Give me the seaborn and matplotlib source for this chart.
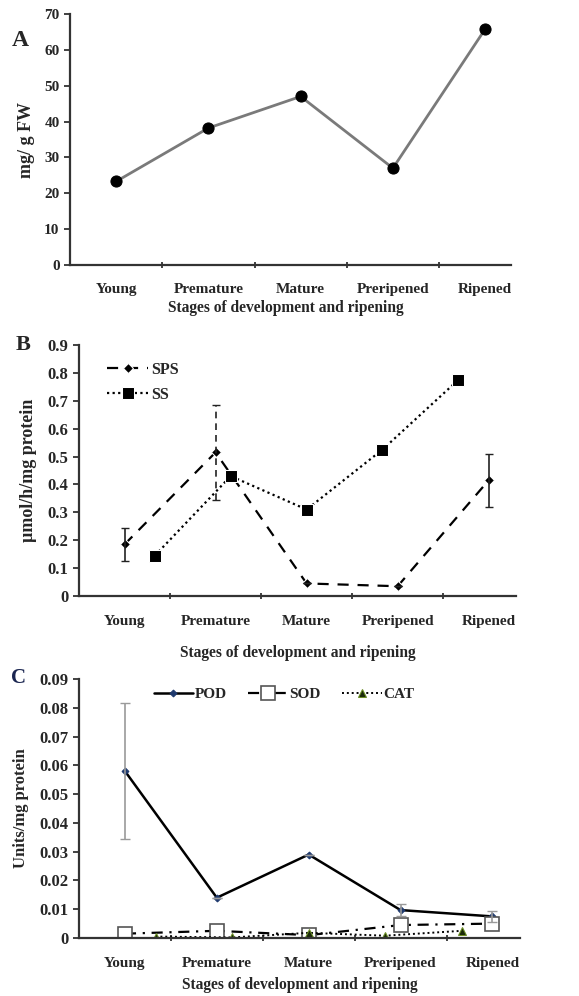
import numpy as np
import matplotlib
matplotlib.use("Agg")
import matplotlib.pyplot as plt
import seaborn as sns
from matplotlib.ticker import FixedLocator, FuncFormatter

sns.set_theme(style="ticks")
plt.rcParams['font.family'] = ['Liberation Serif', 'DejaVu Serif']
plt.rcParams['font.weight'] = 'bold'

stages = ['Young', 'Premature', 'Mature', 'Preripened', 'Ripened']
xlab = 'Stages of development and ripening'

# panel A
sugar = [23.3, 38.2, 47.0, 27.0, 65.8]

# panel B
sps = [0.185, 0.515, 0.045, 0.035, 0.415]
sps_err = [0.058, 0.17, 0.0, 0.0, 0.095]
ss = [0.145, 0.43, 0.31, 0.525, 0.775]

# panel C
pod = [0.058, 0.014, 0.029, 0.0097, 0.0075]
pod_err = [0.0235, 0.0, 0.0, 0.0022, 0.002]
sod = [0.0015, 0.0025, 0.001, 0.0045, 0.005]
cat = [0.0005, 0.0002, 0.0018, 0.0008, 0.0025]

xc = np.arange(len(stages))
# second series spread evenly inside the outer categories (as drawn in the original)
xs = np.linspace(1/3, len(stages) - 1 - 1/3, len(stages))

fig = plt.figure(figsize=(5.79, 9.96), dpi=100)
W, H = 579, 996


def add_ax(l, t, r, b):
    return fig.add_axes([l / W, 1 - b / H, (r - l) / W, (b - t) / H])


def style_ax(ax, ylim, yticks, ylabel, xmax, pad, ytsize, ylsize, fmt=None):
    ax.set_xlim(-0.5, xmax)
    ax.set_ylim(*ylim)
    ax.set_yticks(yticks)
    if fmt:
        ax.yaxis.set_major_formatter(FuncFormatter(fmt))
    ax.set_xticks(xc)
    ax.set_xticklabels(stages)
    ax.xaxis.set_minor_locator(FixedLocator(xc[:-1] + 0.5))
    ax.tick_params(axis='x', which='major', length=0, pad=pad, labelsize=11)
    ax.tick_params(axis='x', which='minor', length=4, width=1.3, direction='inout', color='#333333')
    ax.tick_params(axis='y', length=4, width=1.3, color='#333333', labelsize=ytsize)
    for lab in ax.get_xticklabels() + ax.get_yticklabels():
        lab.set_fontweight('bold')
    for s in ['top', 'right']:
        ax.spines[s].set_visible(False)
    for s in ['left', 'bottom']:
        ax.spines[s].set_color('#333333')
        ax.spines[s].set_linewidth(1.6)
    ax.set_ylabel(ylabel, fontsize=ylsize, fontweight='bold')
    ax.set_xlabel(xlab, fontsize=11.2, fontweight='bold')


def fmt0(v, p):
    return '0' if abs(v) < 1e-12 else '%g' % v


# ---- A ----
axA = add_ax(70, 14, 511, 265)
sns.lineplot(x=xc, y=sugar, ax=axA, color='#7a7a7a', lw=2, marker='o', ms=8,
             markerfacecolor='black', markeredgecolor='black', sort=False)
style_ax(axA, (0, 70), range(0, 71, 10), 'mg/ g FW', 4.28, 13, 11, 13)
axA.yaxis.set_label_coords(-0.08, 0.5)
axA.xaxis.set_label_coords(0.49, -0.14)
fig.text(20 / W, 1 - 40 / H, 'A', fontsize=17, fontweight='bold', ha='center', va='center')

# ---- B ----
axB = add_ax(79, 345, 516, 596)
sns.lineplot(x=xc, y=sps, ax=axB, color='black', lw=1.6, linestyle=(0, (5, 4)), marker='D', ms=5.5,
             label='SPS', sort=False)
sns.lineplot(x=xs, y=ss, ax=axB, color='black', lw=1.6, linestyle=(0, (1, 1.5)), marker='s', ms=8,
             label='SS', sort=False)
eb = axB.errorbar(xc, sps, yerr=sps_err, fmt='none', ecolor='#222222', elinewidth=1.2, capsize=3)
eb[2][0].set_linestyle([(0, (4, 3)) if i == 1 else (0, ()) for i in range(len(stages))])
style_ax(axB, (0, 0.9), np.arange(0, 0.91, 0.1), 'µmol/h/mg protein', 4.3, 14, 12, 13, fmt0)
axB.yaxis.set_label_coords(-0.095, 0.5)
axB.xaxis.set_label_coords(0.5, -0.195)
axB.legend(loc='upper left', bbox_to_anchor=(0.031, 0.99), frameon=False, handlelength=2.6,
           handletextpad=0.2, labelspacing=0.55, prop={'weight': 'bold', 'size': 11.5})
fig.text(23 / W, 1 - 345 / H, 'B', fontsize=16, fontweight='bold', ha='center', va='center')

# ---- C ----
axC = add_ax(79, 679, 520, 938)
sns.lineplot(x=xc, y=pod, ax=axC, color='black', lw=1.8, marker='D', ms=3.5,
             markerfacecolor='#1f3a6e', markeredgecolor='#1f3a6e', label='POD', sort=False)
sns.lineplot(x=xc, y=sod, ax=axC, color='black', lw=1.6, linestyle=(0, (5, 3, 1, 3)), marker='s', ms=10,
             markerfacecolor='white', markeredgecolor='#555555', markeredgewidth=1.2,
             label='SOD', sort=False)
sns.lineplot(x=xs, y=cat, ax=axC, color='black', lw=1.4, linestyle=(0, (1, 1.5)), marker='^', ms=6,
             markerfacecolor='#1b2a0a', markeredgecolor='#6b8e23', label='CAT', sort=False)
ebc = axC.errorbar(xc, pod, yerr=pod_err, fmt='none', ecolor='#9a9a9a', elinewidth=1.2, capsize=3.5)
style_ax(axC, (0, 0.09), np.arange(0, 0.091, 0.01), 'Units/mg protein', 4.3, 14, 12, 12, fmt0)
axC.yaxis.set_label_coords(-0.114, 0.5)
axC.xaxis.set_label_coords(0.5, -0.15)
axC.legend(loc='upper center', bbox_to_anchor=(0.465, 1.02), ncol=3, frameon=False, handlelength=2.6,
           columnspacing=1.4, handletextpad=0.1, prop={'weight': 'bold', 'size': 11})
fig.text(18 / W, 1 - 678 / H, 'C', fontsize=15, fontweight='bold', ha='center', va='center',
         color='#1a2550')

fig.savefig('out.png', dpi=100)
